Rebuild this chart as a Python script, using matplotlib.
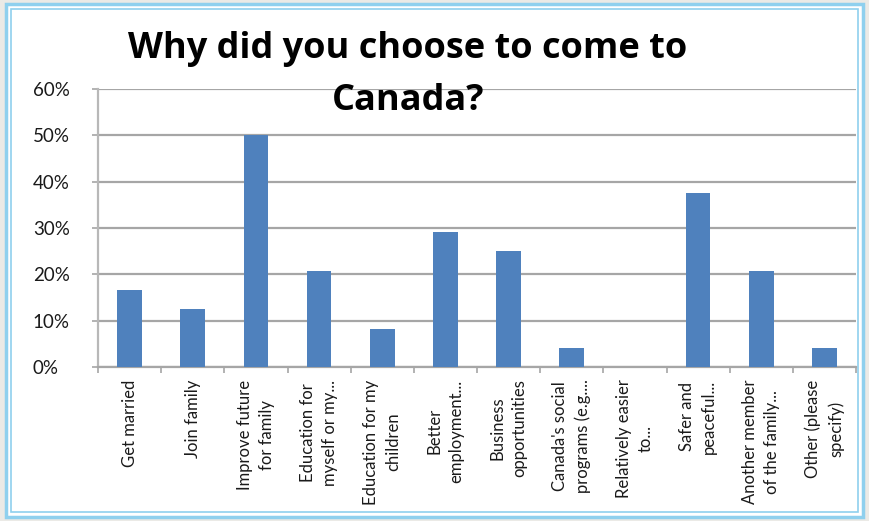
import matplotlib
matplotlib.use("Agg")
import matplotlib.pyplot as plt
from matplotlib.patches import Rectangle
import numpy as np

categories = [
    "Get married",
    "Join family",
    "Improve future\nfor family",
    "Education for\nmyself or my...",
    "Education for my\nchildren",
    "Better\nemployment...",
    "Business\nopportunities",
    "Canada's social\nprograms (e.g....",
    "Relatively easier\nto...",
    "Safer and\npeaceful...",
    "Another member\nof the family...",
    "Other (please\nspecify)",
]
values = [16.7, 12.5, 50.0, 20.8, 8.3, 29.2, 25.0, 4.2, 0.0, 37.5, 20.8, 4.2]
yticks = [0, 10, 20, 30, 40, 50, 60]
title_lines = ["Why did you choose to come to", "Canada?"]

W, H = 869, 521
fig = plt.figure(figsize=(W / 100, H / 100), dpi=100)
fig.patch.set_facecolor("#ebeae6")

# white panel with light-blue double frame
fig.patches.append(Rectangle((6 / W, 4 / H), 857 / W, 513 / H, transform=fig.transFigure,
                             facecolor="white", edgecolor="#8fd0ee", linewidth=2.5, zorder=-2))
fig.patches.append(Rectangle((11 / W, 9 / H), 847 / W, 503 / H, transform=fig.transFigure,
                             facecolor="none", edgecolor="#8fd0ee", linewidth=1.2, zorder=-1))

ax = fig.add_axes([98 / W, 1 - 367 / H, (856 - 98) / W, (367 - 89) / H])
ax.set_facecolor("none")
x = np.arange(len(categories))
ax.bar(x, values, width=0.39, color="#4f81bd", zorder=3)

ax.set_xlim(-0.5, len(categories) - 0.5)
ax.set_ylim(0, 60)
ax.set_yticks(yticks)
ax.set_yticklabels([f"{v}%" for v in yticks], fontsize=13.5, family="Lato",
                   ha="left", color="#1a1a1a")
ax.tick_params(axis="y", length=4, width=1.2, color="#a6a6a6", pad=43)

ax.set_xticks(x)
ax.set_xticklabels(categories, rotation=90, fontsize=12, family="Lato",
                   linespacing=1.45, ha="center", va="top", color="#1a1a1a")
ax.tick_params(axis="x", length=0, pad=9)
ax.set_xticks(np.arange(-0.5, len(categories), 1.0), minor=True)
ax.tick_params(axis="x", which="minor", length=4, width=1.2, color="#a6a6a6")

ax.grid(axis="y", color="#a6a6a6", linewidth=1.6, zorder=0)
for side in ("top", "right"):
    ax.spines[side].set_visible(False)
ax.spines["left"].set_color("#b8b8b8")
ax.spines["left"].set_linewidth(1.6)
ax.spines["bottom"].set_color("#a6a6a6")
ax.spines["bottom"].set_linewidth(1.6)

fig.text(408 / W, 1 - 58 / H, title_lines[0], ha="center", va="baseline", fontsize=26,
         fontweight="bold", family="Open Sans")
fig.text(408 / W, 1 - 110 / H, title_lines[1], ha="center", va="baseline", fontsize=26,
         fontweight="bold", family="Open Sans")

fig.savefig("out.png", dpi=100, facecolor=fig.get_facecolor())
